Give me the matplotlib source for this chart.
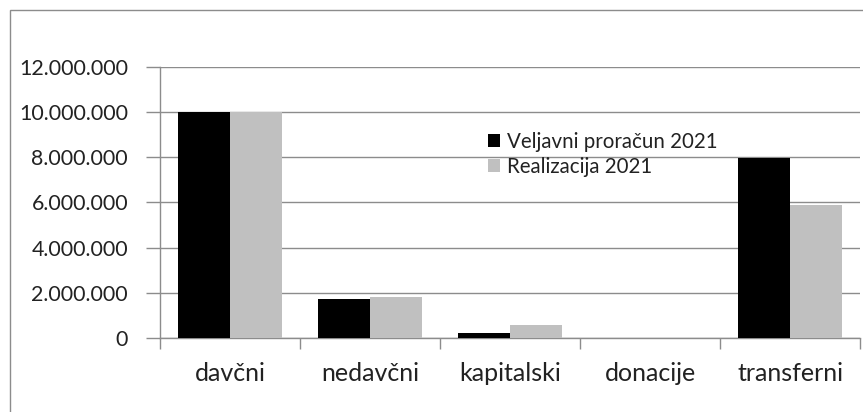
import matplotlib
matplotlib.use("Agg")
import matplotlib.pyplot as plt
from matplotlib.patches import Rectangle
import numpy as np

categories = ["davčni", "nedavčni", "kapitalski", "donacije", "transferni"]
veljavni = [10000000, 1720000, 220000, 0, 7960000]
realizacija = [10000000, 1820000, 560000, 0, 5880000]
series_names = ["Veljavni proračun 2021", "Realizacija 2021"]
yticks = [0, 2000000, 4000000, 6000000, 8000000, 10000000, 12000000]

plt.rcParams['font.family'] = ['Lato', 'DejaVu Sans']

W, H = 863, 412
fig = plt.figure(figsize=(W/100, H/100), dpi=100)
fig.patch.set_facecolor("white")

# outer chart frame
fig.patches.append(Rectangle((10/W, -0.1), 1.2, (H-10)/H + 0.1, transform=fig.transFigure,
                             fill=False, edgecolor="#8c8c8c", linewidth=1.0))

ax = fig.add_axes([160/W, (H-338)/H, 700/W, (338-67)/H])
x = np.arange(len(categories))
bw = 52/140
ax.bar(x - bw/2, veljavni, bw, color="black", label=series_names[0], zorder=3)
ax.bar(x + bw/2, realizacija, bw, color="#c0c0c0", label=series_names[1], zorder=3)

ax.set_xlim(-0.5, len(categories) - 0.5)
ax.set_ylim(0, 12000000)
ax.set_yticks(yticks)
ax.set_yticklabels([f"{v:,}".replace(",", ".") for v in yticks])
ax.yaxis.grid(True, color="#8c8c8c", linewidth=1.0, zorder=0)
ax.set_axisbelow(True)

ax.set_xticks(x)
ax.set_xticklabels(categories)
ax.set_xticks(np.arange(len(categories) + 1) - 0.5, minor=True)
ax.tick_params(axis="x", which="major", length=0, pad=17, labelsize=18, labelcolor="#222222")
ax.tick_params(axis="x", which="minor", length=8, width=1.0, color="#8c8c8c", direction="out")
ax.tick_params(axis="y", which="major", length=10, width=1.0, color="#8c8c8c", pad=13,
               labelsize=15.4, labelcolor="#222222")

for s in ["top", "right"]:
    ax.spines[s].set_visible(False)
for s in ["left", "bottom"]:
    ax.spines[s].set_color("#8c8c8c")
    ax.spines[s].set_linewidth(1.0)

leg = ax.legend(loc="upper left", bbox_to_anchor=((488-160)/700, (338-132)/271),
                frameon=False, fontsize=14.8, handlelength=0.6, handleheight=0.6,
                handletextpad=0.3, labelspacing=0.25, borderaxespad=0, borderpad=0)
for t in leg.get_texts():
    t.set_color("#222222")

fig.savefig("out.png", dpi=100)
